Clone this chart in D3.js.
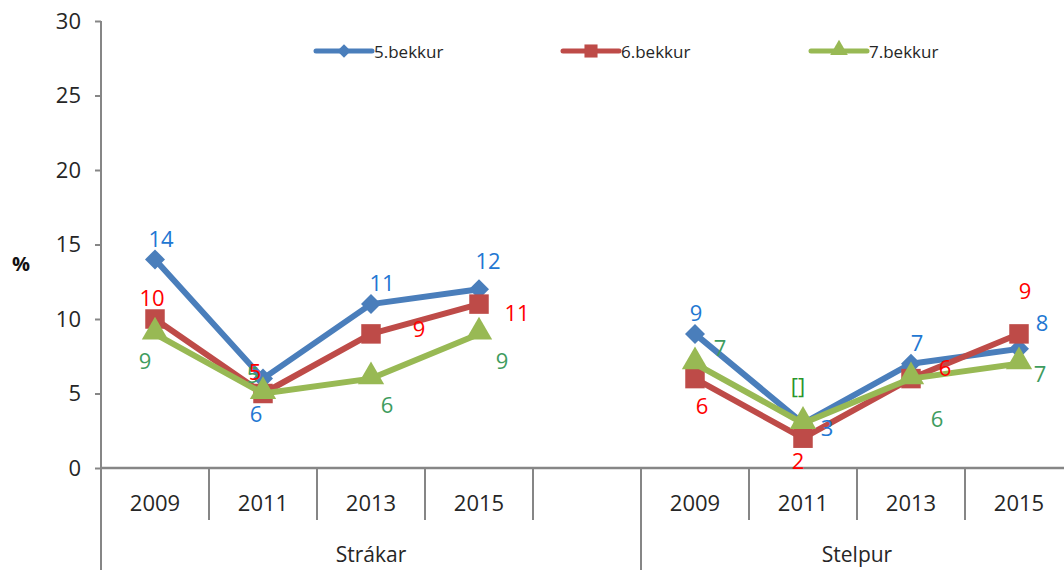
<!DOCTYPE html>
<html>
<head>
<meta charset="utf-8">
<script src="https://cdn.jsdelivr.net/npm/d3@7"></script>
<style>
  html, body { margin: 0; padding: 0; background: #fff; }
  svg { display: block; font-family: "Open Sans", "DejaVu Sans", sans-serif; }
</style>
</head>
<body>
<svg id="chart" width="1064" height="570"></svg>
<script>
// Category slots: four survey years per group, with an empty slot after Strákar
const years = ["2009", "2011", "2013", "2015", "", "2009", "2011", "2013", "2015"];
const groups = ["Strákar", "Stelpur"];
const groupSpans = [5, 4];
const yTicks = [0, 5, 10, 15, 20, 25, 30];

const seriesNames = ["5.bekkur", "6.bekkur", "7.bekkur"];
const grade5 = [14, 6, 11, 12, null, 9, 3, 7, 8];
const grade6 = [10, 5, 9, 11, null, 6, 2, 6, 9];
const grade7 = [9, 5, 6, 9, null, 7, 3, 6, 7];

// label text overrides (slot index -> text)
const grade7LabelText = { 6: "[]" };

// label placement offsets (dx, dy) from each point
const grade5Offsets = [[6,-21],[-7,34],[11,-22],[9,-29],null,[1,-22],[24,4],[6,-22],[23,-27]];
const grade6Offsets = [[-3,-22],[-8,-23],[48,-6],[38,8],null,[7,26],[-5,22],[34,-12],[6,-44]];
const grade7Offsets = [[-10,26],[-10,-20],[16,25],[23,26],null,[25,-17],[-5,-38],[26,39],[21,9]];

const lineColors = ["#4A7EBB", "#BE4B48", "#98B954"];
const labelColors = ["#2277D2", "#FF0000", "#3E9C5E"];
const overrideLabelColor = "#2A952A";
// diamond = square rotated 45 degrees
const symbols = [d3.symbolSquare, d3.symbolSquare, d3.symbolTriangle];
const symbolRotate = [45, 0, 0];
const symbolSizes = [200, 380, 300];

const svg = d3.select("#chart");
const W = 1064, H = 570;
const plotLeft = 101, plotRight = 1073, plotTop = 21, plotBottom = 468;
const axisColor = "#868686";
const textColor = "#262626";

const x = d3.scaleBand().domain(d3.range(years.length)).range([plotLeft, plotRight]).padding(0);
const y = d3.scaleLinear().domain([0, 30]).range([plotBottom, plotTop]);
const cx = i => x(i) + x.bandwidth() / 2;

// Y axis
const yAxis = svg.append("g")
  .attr("transform", `translate(${plotLeft},0)`)
  .call(d3.axisLeft(y).tickValues(yTicks).tickSize(6).tickPadding(14));
yAxis.select(".domain").remove();
yAxis.selectAll(".tick line").attr("stroke", axisColor).attr("stroke-width", 2);
yAxis.selectAll(".tick text")
  .attr("fill", textColor).style("font-size", "22px").style("font-family", "'Open Sans', sans-serif");
svg.append("line")
  .attr("x1", plotLeft).attr("x2", plotLeft).attr("y1", plotTop).attr("y2", H)
  .attr("stroke", axisColor).attr("stroke-width", 2);

svg.append("text")
  .attr("x", 21).attr("y", 263)
  .attr("text-anchor", "middle").attr("dominant-baseline", "central")
  .attr("fill", "#111").style("font-size", "20px").style("font-weight", "bold")
  .text("%");

// X axis line
svg.append("line")
  .attr("x1", plotLeft).attr("x2", W).attr("y1", plotBottom).attr("y2", plotBottom)
  .attr("stroke", axisColor).attr("stroke-width", 2.5);

// Year separators and labels
const xAxisG = svg.append("g");
years.forEach((yr, i) => {
  if (i > 0) {
    xAxisG.append("line")
      .attr("x1", x(i)).attr("x2", x(i))
      .attr("y1", plotBottom).attr("y2", 520)
      .attr("stroke", axisColor).attr("stroke-width", 2);
  }
  if (yr) {
    xAxisG.append("text")
      .attr("x", cx(i)).attr("y", 502)
      .attr("text-anchor", "middle").attr("dominant-baseline", "central")
      .attr("fill", textColor).style("font-size", "22px")
      .text(yr);
  }
});

// Group separators and labels
let start = 0;
groups.forEach((g, gi) => {
  const end = start + groupSpans[gi];
  const x0 = x(start);
  const x1 = end < years.length ? x(end) : plotRight;
  if (end < years.length) {
    xAxisG.append("line")
      .attr("x1", x1).attr("x2", x1).attr("y1", plotBottom).attr("y2", H)
      .attr("stroke", axisColor).attr("stroke-width", 2);
  }
  xAxisG.append("text")
    .attr("x", (x0 + x1) / 2).attr("y", 554)
    .attr("text-anchor", "middle").attr("dominant-baseline", "central")
    .attr("fill", textColor).style("font-size", "21px")
    .text(g);
  start = end;
});

// Series lines and markers
const allSeries = [grade5, grade6, grade7];
const line = d3.line()
  .defined(d => d.v !== null)
  .x(d => cx(d.i))
  .y(d => y(d.v));

allSeries.forEach((vals, si) => {
  const pts = vals.map((v, i) => ({ v, i }));
  svg.append("path")
    .datum(pts)
    .attr("d", line)
    .attr("fill", "none")
    .attr("stroke", lineColors[si])
    .attr("stroke-width", 6)
    .attr("stroke-linejoin", "round");
  svg.append("g").selectAll("path")
    .data(pts.filter(d => d.v !== null))
    .join("path")
    .attr("d", d3.symbol(symbols[si], symbolSizes[si]))
    .attr("transform", d => `translate(${cx(d.i)},${y(d.v) + (si === 2 ? -2 : 0)}) rotate(${symbolRotate[si]})`)
    .attr("fill", lineColors[si]);
});

// Data labels (green first so the red 5 sits on top)
const offsets = [grade5Offsets, grade6Offsets, grade7Offsets];
const labelOverrides = [{}, {}, grade7LabelText];
[2, 0, 1].forEach(si => {
  allSeries[si].forEach((v, i) => {
    if (v === null) return;
    const off = offsets[si][i];
    const txt = labelOverrides[si][i] !== undefined ? labelOverrides[si][i] : String(v);
    svg.append("text")
      .attr("x", cx(i) + off[0]).attr("y", y(v) + off[1])
      .attr("text-anchor", "middle").attr("dominant-baseline", "central")
      .attr("fill", labelOverrides[si][i] !== undefined ? overrideLabelColor : labelColors[si])
      .style("font-size", "22px")
      .text(txt);
  });
});

// Legend
const legendX = [316, 563, 811];
const legendY = 51;
seriesNames.forEach((name, si) => {
  const g = svg.append("g").attr("transform", `translate(${legendX[si]},${legendY})`);
  g.append("line")
    .attr("x1", 0).attr("x2", 56).attr("y1", 0).attr("y2", 0)
    .attr("stroke", lineColors[si]).attr("stroke-width", 5).attr("stroke-linecap", "round");
  g.append("path")
    .attr("d", d3.symbol(symbols[si], symbolSizes[si] * 0.45))
    .attr("transform", `translate(28,${si === 2 ? -1 : 0}) rotate(${symbolRotate[si]})`)
    .attr("fill", lineColors[si]);
  g.append("text")
    .attr("x", 58).attr("y", 0)
    .attr("dominant-baseline", "central")
    .attr("fill", textColor).style("font-size", "17px")
    .text(name);
});
</script>
</body>
</html>
